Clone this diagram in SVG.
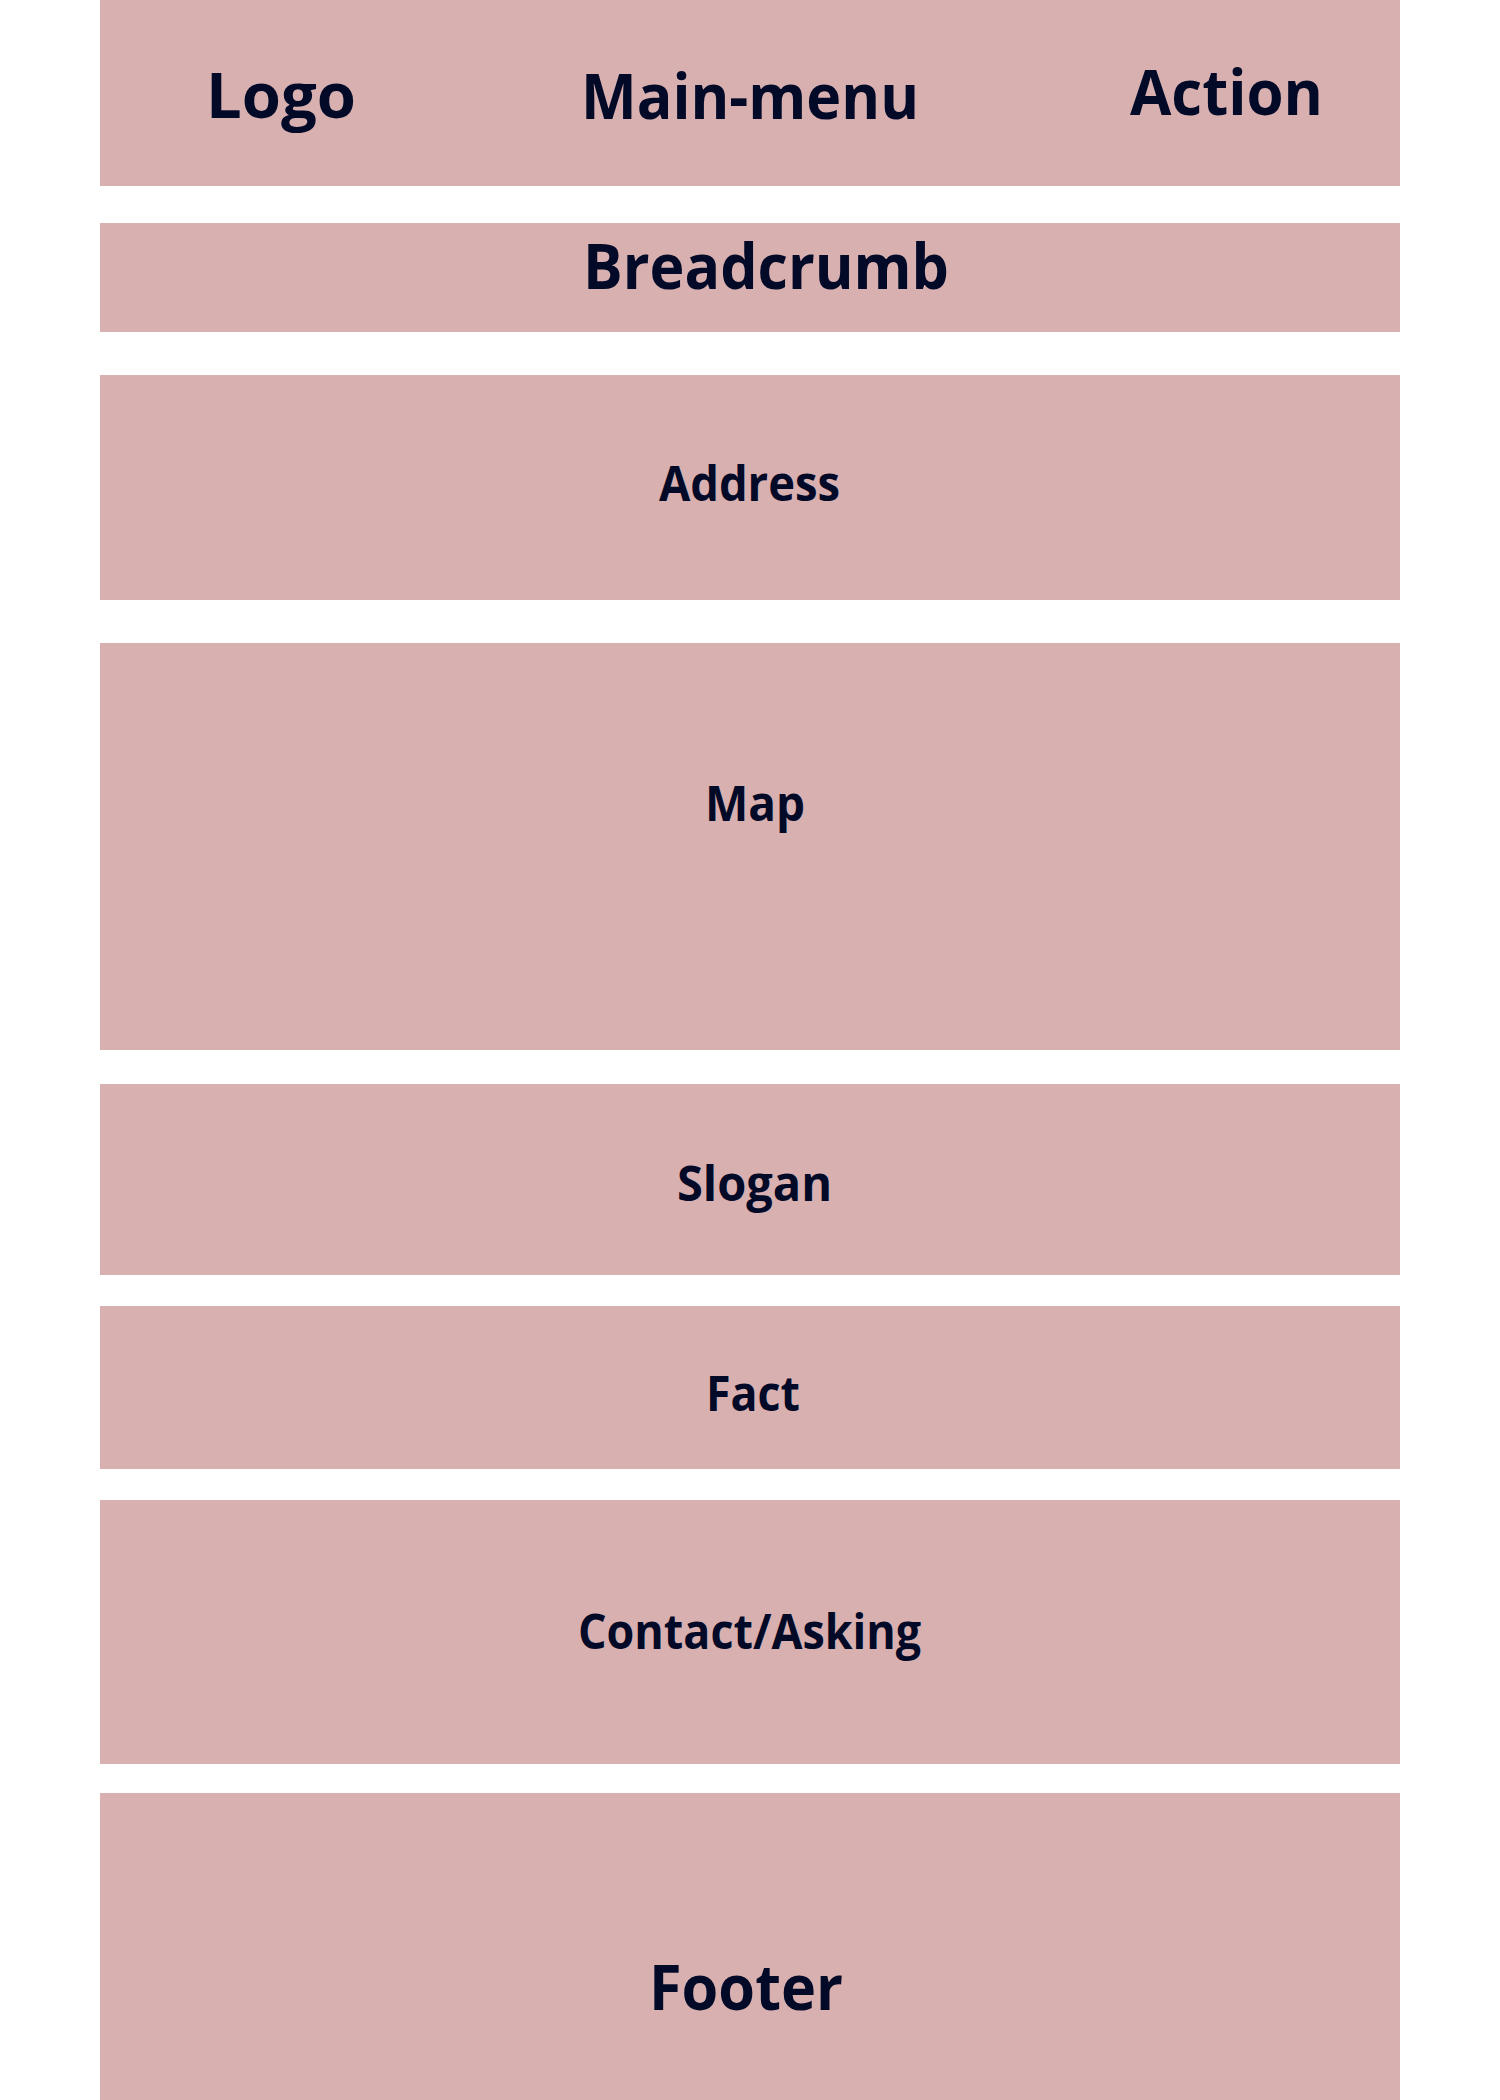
<svg xmlns="http://www.w3.org/2000/svg" width="1500" height="2100" viewBox="0 0 1500 2100">
  <style>
    .block { fill: #D9B0B0; }
    .label { fill: #030A28; font-family: "Open Sans", "Noto Sans", "Liberation Sans", sans-serif; font-weight: 700; }
    .big { font-size: 62px; }
    .mid { font-size: 48px; }
  </style>
  <rect width="1500" height="2100" fill="#FFFFFF"/>

  <!-- page header -->
  <g id="header">
    <rect class="block" x="100" y="0" width="1300" height="186"/>
    <text class="label big" x="206" y="118" textLength="150" lengthAdjust="spacingAndGlyphs">Logo</text>
    <text class="label big" x="581" y="119" textLength="338" lengthAdjust="spacingAndGlyphs">Main-menu</text>
    <text class="label big" x="1130" y="115" textLength="193" lengthAdjust="spacingAndGlyphs">Action</text>
  </g>

  <g id="breadcrumb">
    <rect class="block" x="100" y="223" width="1300" height="109"/>
    <text class="label big" x="583" y="289" textLength="366" lengthAdjust="spacingAndGlyphs">Breadcrumb</text>
  </g>

  <g id="address">
    <rect class="block" x="100" y="375" width="1300" height="225"/>
    <text class="label mid" x="659" y="501" textLength="181" lengthAdjust="spacingAndGlyphs">Address</text>
  </g>

  <g id="map">
    <rect class="block" x="100" y="643" width="1300" height="407"/>
    <text class="label mid" x="705" y="821" textLength="100" lengthAdjust="spacingAndGlyphs">Map</text>
  </g>

  <g id="slogan">
    <rect class="block" x="100" y="1084" width="1300" height="191"/>
    <text class="label mid" x="677" y="1201" textLength="155" lengthAdjust="spacingAndGlyphs">Slogan</text>
  </g>

  <g id="fact">
    <rect class="block" x="100" y="1306" width="1300" height="163"/>
    <text class="label mid" x="706" y="1411" textLength="94" lengthAdjust="spacingAndGlyphs">Fact</text>
  </g>

  <g id="contact">
    <rect class="block" x="100" y="1500" width="1300" height="264"/>
    <text class="label mid" x="578" y="1649" textLength="343" lengthAdjust="spacingAndGlyphs">Contact/Asking</text>
  </g>

  <g id="footer">
    <rect class="block" x="100" y="1793" width="1300" height="307"/>
    <text class="label big" x="649" y="2010" textLength="194" lengthAdjust="spacingAndGlyphs">Footer</text>
  </g>

  <!-- no connectors in this layout -->
  <g id="connectors"/>
</svg>
